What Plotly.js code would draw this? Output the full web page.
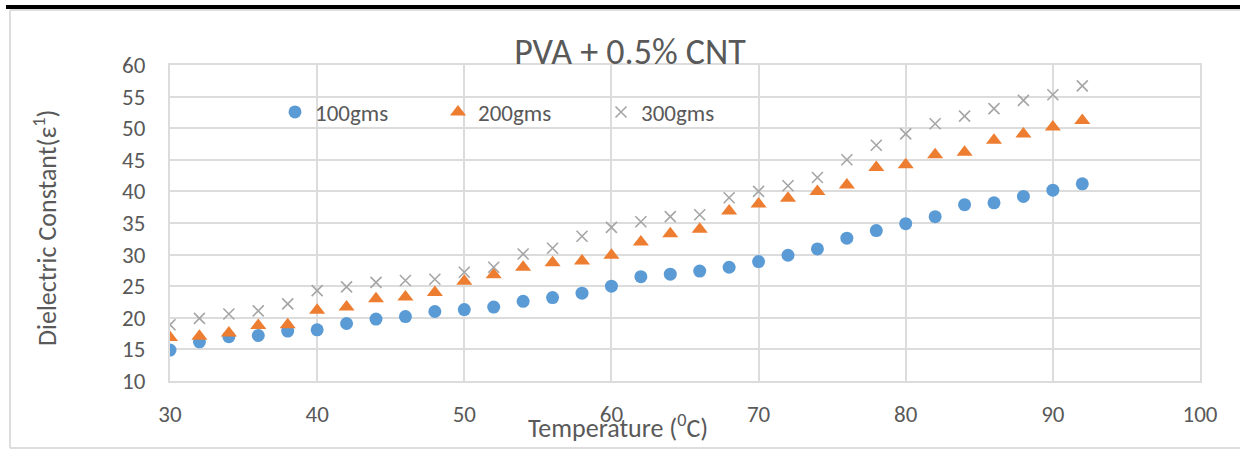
<!DOCTYPE html>
<html>
<head>
<meta charset="utf-8">
<script src="https://cdn.plot.ly/plotly-3.0.1.min.js"></script>
<style>
  html, body { margin: 0; padding: 0; background: #ffffff; }
  #chart { width: 1240px; height: 450px; }
</style>
</head>
<body>
<div id="chart"></div>
<script>
// ---- data ----
const temperature = [30, 32, 34, 36, 38, 40, 42, 44, 46, 48, 50, 52, 54, 56, 58, 60,
                     62, 64, 66, 68, 70, 72, 74, 76, 78, 80, 82, 84, 86, 88, 90, 92];
const series100 = [14.9, 16.2, 17.0, 17.2, 17.9, 18.1, 19.1, 19.8, 20.2, 21.0, 21.3, 21.7, 22.6, 23.2, 23.9, 25.0,
                   26.5, 26.9, 27.4, 28.0, 28.9, 29.9, 30.9, 32.6, 33.8, 34.9, 36.0, 37.9, 38.2, 39.2, 40.2, 41.2];
const series200 = [16.9, 17.1, 17.6, 18.8, 18.9, 21.2, 21.7, 23.0, 23.3, 24.0, 25.8, 26.8, 28.0, 28.7, 29.0, 29.9,
                   32.0, 33.3, 34.0, 36.9, 38.0, 38.9, 40.0, 41.0, 43.8, 44.2, 45.8, 46.2, 48.1, 49.1, 50.2, 51.2];
const series300 = [18.9, 19.9, 20.6, 21.1, 22.2, 24.3, 24.9, 25.6, 25.9, 26.1, 27.2, 28.0, 30.1, 31.0, 32.9, 34.3,
                   35.2, 36.0, 36.3, 39.0, 40.0, 40.9, 42.2, 45.0, 47.3, 49.1, 50.7, 51.9, 53.1, 54.4, 55.3, 56.7];
const seriesNames = ['100gms', '200gms', '300gms'];
const chartTitle = 'PVA + 0.5% CNT';
const xTitle = 'Temperature (<sup>0</sup>C)';
const yTitle = 'Dielectric Constant(ε<sup>1</sup>)';
const xTicks = [30, 40, 50, 60, 70, 80, 90, 100];
const yTicks = [10, 15, 20, 25, 30, 35, 40, 45, 50, 55, 60];

// ---- layout geometry ----
const W = 1240, H = 450;
const M = { l: 170, r: 40, t: 65, b: 69 };
const PW = W - M.l - M.r, PH = H - M.t - M.b;
const px = x => (x - M.l) / PW;          // pixel -> paper x
const py = y => (H - M.b - y) / PH;      // pixel -> paper y

const FONT = 'Carlito, Calibri, Lato, "Open Sans", sans-serif';
const TXT = '#595959';
const GRID = '#DCDCDC';

const traces = [
  { x: temperature, y: series100, name: seriesNames[0], type: 'scatter', mode: 'markers',
    marker: { symbol: 'circle', size: 13, color: '#5B9BD5', line: { width: 0 } } },
  { x: temperature, y: series200, name: seriesNames[1], type: 'scatter', mode: 'markers',
    marker: { symbol: 'triangle-up', size: 14, color: '#ED7D31', line: { width: 0 } } },
  { x: temperature, y: series300, name: seriesNames[2], type: 'scatter', mode: 'markers',
    marker: { symbol: 'x-thin', size: 11, color: '#A5A5A5', line: { width: 1.6, color: '#A5A5A5' } } }
];

const layout = {
  width: W, height: H, autosize: false,
  margin: M,
  paper_bgcolor: '#ffffff', plot_bgcolor: '#ffffff',
  font: { family: FONT, color: TXT, size: 23 },
  title: { text: chartTitle, xref: 'container', x: 630 / W, xanchor: 'center',
           yref: 'container', y: 1 - 51 / H, yanchor: 'middle',
           font: { family: FONT, size: 36, color: TXT } },
  showlegend: true,
  legend: { orientation: 'h', x: px(275), xanchor: 'left', y: py(112), yanchor: 'middle',
            font: { family: FONT, size: 23, color: TXT }, bgcolor: 'rgba(0,0,0,0)',
            entrywidth: 118, entrywidthmode: 'pixels', itemclick: false },
  xaxis: { range: [30, 100], tickvals: xTicks, ticktext: xTicks.map(String),
           showgrid: true, gridcolor: GRID, gridwidth: 2, zeroline: false,
           showline: true, linecolor: GRID, linewidth: 2, mirror: true,
           ticks: '', ticklabelstandoff: 11,
           tickfont: { family: FONT, size: 23, color: TXT } },
  yaxis: { range: [10, 60], tickvals: yTicks, ticktext: yTicks.map(String),
           showgrid: true, gridcolor: GRID, gridwidth: 2, zeroline: false,
           showline: true, linecolor: GRID, linewidth: 2, mirror: true,
           ticks: '', ticklabelstandoff: 18,
           tickfont: { family: FONT, size: 23, color: TXT } },
  annotations: [
    { text: xTitle, xref: 'paper', yref: 'paper', x: px(618), y: py(427),
      xanchor: 'center', yanchor: 'middle', showarrow: false,
      font: { family: FONT, size: 26, color: TXT } },
    { text: yTitle, xref: 'paper', yref: 'paper', x: px(45), y: py(228),
      xanchor: 'center', yanchor: 'middle', showarrow: false, textangle: -90,
      font: { family: FONT, size: 26, color: TXT } }
  ],
  shapes: [
    // black rule at the top of the page
    { type: 'rect', xref: 'paper', yref: 'paper', x0: px(6), x1: px(1245), y0: py(9), y1: py(5),
      fillcolor: '#000000', line: { width: 0 }, layer: 'above' },
    // light grey chart frame (top, left, bottom)
    { type: 'line', xref: 'paper', yref: 'paper', x0: px(10), x1: px(1245), y0: py(10), y1: py(10),
      line: { color: '#DDDDDD', width: 2 } },
    { type: 'line', xref: 'paper', yref: 'paper', x0: px(10), x1: px(10), y0: py(10), y1: py(448),
      line: { color: '#DDDDDD', width: 2 } },
    { type: 'line', xref: 'paper', yref: 'paper', x0: px(10), x1: px(1245), y0: py(448), y1: py(448),
      line: { color: '#DDDDDD', width: 2 } }
  ]
};

Plotly.newPlot('chart', traces, layout, { displayModeBar: false, staticPlot: true });
</script>
</body>
</html>
